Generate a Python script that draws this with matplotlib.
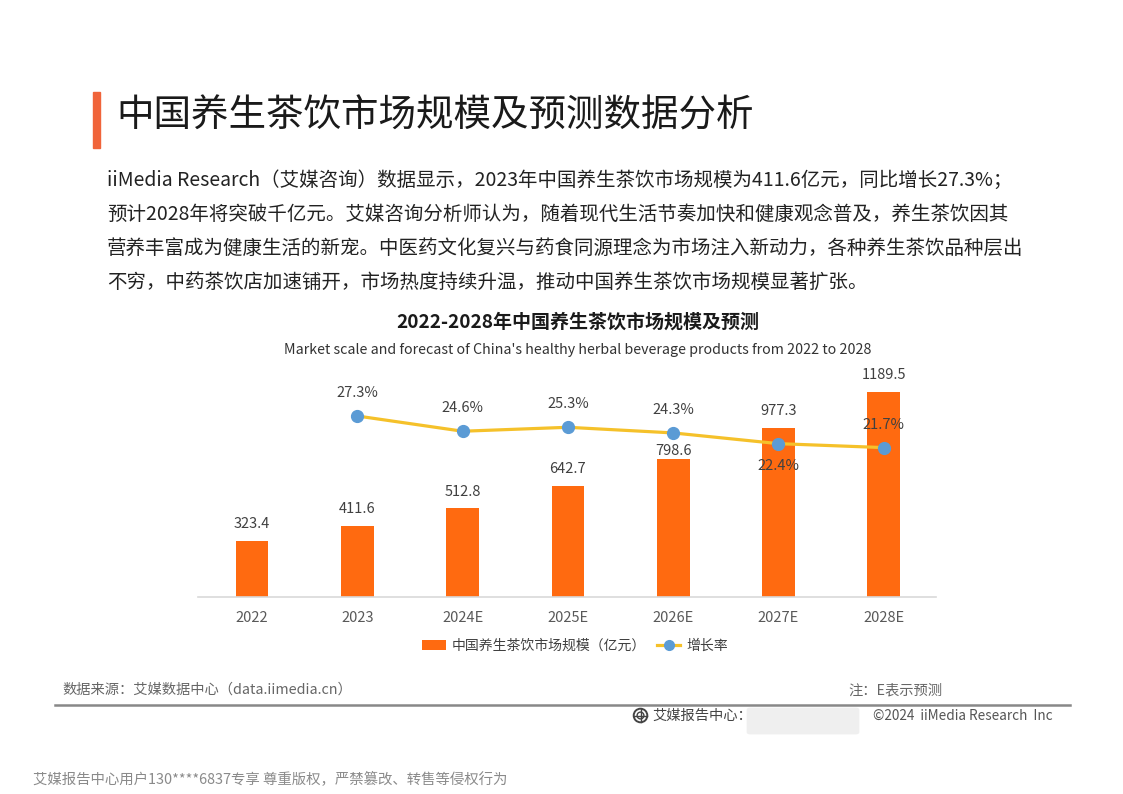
import matplotlib
matplotlib.use("Agg")
import matplotlib.pyplot as plt
from matplotlib.patches import Rectangle, Circle, FancyBboxPatch, Patch
from matplotlib.lines import Line2D

plt.rcParams['font.family'] = ['Noto Sans CJK SC', 'DejaVu Sans']

# ---------------- data ----------------
categories = ["2022", "2023", "2024E", "2025E", "2026E", "2027E", "2028E"]
market_size = [323.4, 411.6, 512.8, 642.7, 798.6, 977.3, 1189.5]
growth_x = [1, 2, 3, 4, 5, 6]
growth_rate = [27.3, 24.6, 25.3, 24.3, 22.4, 21.7]

header_title = "中国养生茶饮市场规模及预测数据分析"
paragraph_lines = [
    "iiMedia Research（艾媒咨询）数据显示，2023年中国养生茶饮市场规模为411.6亿元，同比增长27.3%；",
    "预计2028年将突破千亿元。艾媒咨询分析师认为，随着现代生活节奏加快和健康观念普及，养生茶饮因其",
    "营养丰富成为健康生活的新宠。中医药文化复兴与药食同源理念为市场注入新动力，各种养生茶饮品种层出",
    "不穷，中药茶饮店加速铺开，市场热度持续升温，推动中国养生茶饮市场规模显著扩张。",
]
chart_title = "2022-2028年中国养生茶饮市场规模及预测"
chart_subtitle = "Market scale and forecast of China's healthy herbal beverage products from 2022 to 2028"
legend_bar = "中国养生茶饮市场规模（亿元）"
legend_line = "增长率"
source_text = "数据来源：艾媒数据中心（data.iimedia.cn）"
note_text = "注：E表示预测"
brand_text = "艾媒报告中心："
copyright_text = "©2024  iiMedia Research  Inc"
watermark_text = "艾媒报告中心用户130****6837专享 尊重版权，严禁篡改、转售等侵权行为"

# ---------------- styling ----------------
W, H = 1123, 794
BAR_COLOR = "#FF6A10"
LINE_COLOR = "#F5C12A"
MARKER_COLOR = "#5B9BD5"
ACCENT = "#F0643A"
# label offsets (points) — styling only
bar_label_offsets = [12, 12, 12, 12, 6, 12, 12]
rate_label_offsets = [16.5, 16.5, 16.5, 16.5, -16, 16.5]

fig = plt.figure(figsize=(W / 100, H / 100), dpi=100)
fig.patch.set_facecolor("white")

def fx(px):
    return px / W

def fy(py):
    return 1 - py / H

# header
fig.patches.append(Rectangle((fx(93), fy(148)), fx(7), (148 - 92) / H,
                             transform=fig.transFigure, color=ACCENT, zorder=5))
fig.text(fx(116), fy(116), header_title, fontsize=27, color="#1a1a1a",
         ha="left", va="center")

line_y = [180, 214, 248, 282]
for txt, y in zip(paragraph_lines, line_y):
    fig.text(fx(107), fy(y), txt, fontsize=14.0, color="#222222",
             ha="left", va="center")

# chart titles
fig.text(fx(578), fy(322), chart_title, fontsize=13.7, fontweight="bold",
         color="#1a1a1a", ha="center", va="center")
fig.text(fx(578), fy(350), chart_subtitle, fontsize=10.25, color="#333333",
         ha="center", va="center")

# ---------------- chart ----------------
base_px = 597
px_per_unit = 205.5 / 1189.5
ymax = 1400
ax_h_px = ymax * px_per_unit
ax = fig.add_axes([fx(198), (H - base_px) / H, fx(936 - 198), ax_h_px / H])
x = list(range(len(categories)))
ax.bar(x, market_size, width=0.31, color=BAR_COLOR, zorder=2)
ax.set_xlim(-0.513, 6.496)
ax.set_ylim(0, ymax)
for s in ["top", "right", "left"]:
    ax.spines[s].set_visible(False)
ax.spines["bottom"].set_color("#D9D9D9")
ax.spines["bottom"].set_linewidth(1.2)
ax.set_yticks([])
ax.set_xticks(x, categories)
ax.tick_params(axis="x", length=0, pad=10, labelsize=10.5, labelcolor="#595959")
ax.patch.set_alpha(0)
for xi, v, off in zip(x, market_size, bar_label_offsets):
    ax.annotate(f"{v:.1f}", (xi, v), xytext=(0, off), textcoords="offset points",
                ha="center", va="center", fontsize=10.5, color="#404040", zorder=6)

# secondary axis for growth rate (keeps the same pixel mapping as the reference)
top_px = base_px - ax_h_px
r_per_px = 5.6 / 31.6
r_min = 27.3 - (base_px - 416) * r_per_px
r_max = r_min + ax_h_px * r_per_px
ax2 = ax.twinx()
ax2.set_ylim(r_min, r_max)
ax2.axis("off")
ax2.plot(growth_x, growth_rate, color=LINE_COLOR, lw=2.3, marker="o",
         markersize=8.5, markerfacecolor=MARKER_COLOR, markeredgecolor=MARKER_COLOR,
         zorder=4)
for xi, v, off in zip(growth_x, growth_rate, rate_label_offsets):
    ax2.annotate(f"{v:.1f}%", (xi, v), xytext=(0, off), textcoords="offset points",
                 ha="center", va="center", fontsize=10.5, color="#404040", zorder=6)

# legend
handles = [Patch(facecolor=BAR_COLOR, edgecolor="none"),
           Line2D([0], [0], color=LINE_COLOR, lw=2.3, marker="o", markersize=7,
                  markerfacecolor=MARKER_COLOR, markeredgecolor=MARKER_COLOR)]
fig.legend(handles, [legend_bar, legend_line], loc="center",
           bbox_to_anchor=(fx(575), fy(646)), ncol=2, frameon=False,
           fontsize=10, handlelength=1.7, handleheight=0.8, handletextpad=0.4,
           columnspacing=0.8, labelcolor="#404040")

# ---------------- footer ----------------
fig.text(fx(62), fy(690), source_text, fontsize=10.3, color="#666666",
         ha="left", va="center")
fig.text(fx(848), fy(690), note_text, fontsize=10.3, color="#666666",
         ha="left", va="center")
fig.add_artist(Line2D([fx(55), fx(1070)], [fy(705), fy(705)],
                      transform=fig.transFigure, color="#888888", lw=1.8))

# brand icon (small globe)
icon_ax = fig.add_axes([fx(632), fy(724), fx(17), 17 / H])
icon_ax.set_xlim(-1, 1)
icon_ax.set_ylim(-1, 1)
icon_ax.set_aspect("equal")
icon_ax.axis("off")
icon_ax.add_patch(Circle((0, 0), 0.8, fill=False, lw=1.4, ec="#444444"))
icon_ax.plot([-0.8, 0.8], [0, 0], color="#444444", lw=1.0)
icon_ax.plot([0, 0], [-0.8, 0.8], color="#444444", lw=1.0)
icon_ax.add_patch(Circle((0, 0), 0.4, fill=False, lw=1.0, ec="#444444"))

fig.text(fx(652), fy(716), brand_text, fontsize=10.3, color="#444444",
         ha="left", va="center")
fig.patches.append(FancyBboxPatch((fx(750), fy(732)), fx(106), 22 / H,
                                  boxstyle="round,pad=0.003",
                                  transform=fig.transFigure,
                                  facecolor="#EBEBEB", edgecolor="none", alpha=0.8))
fig.text(fx(873), fy(716), copyright_text, fontsize=9.8, color="#555555",
         ha="left", va="center")

fig.text(fx(33), fy(779), watermark_text, fontsize=10.4, color="#8a8a8a",
         ha="left", va="center")

fig.savefig("out.png", dpi=100)
